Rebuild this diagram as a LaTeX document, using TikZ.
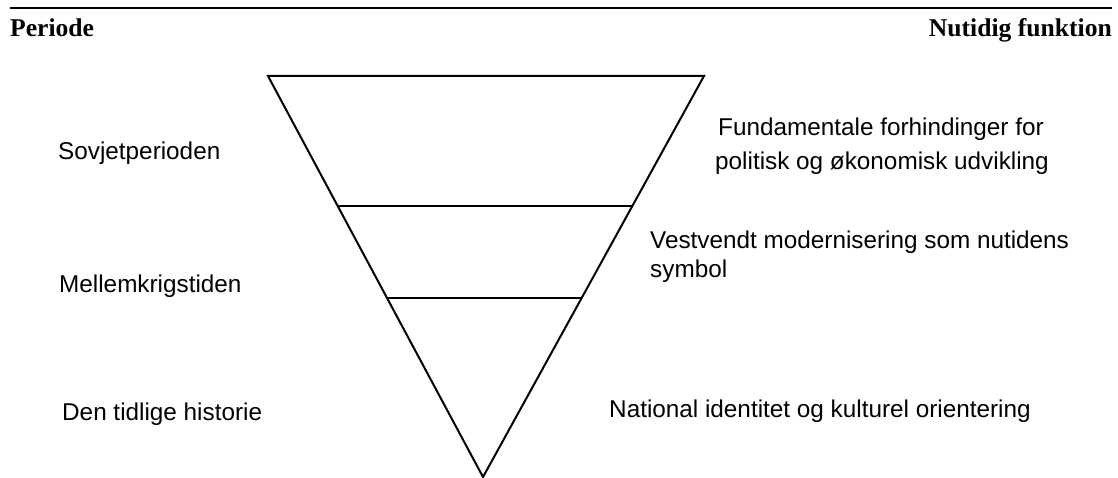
\documentclass[tikz,border=0pt]{standalone}
\usepackage{fontspec}
\usetikzlibrary{calc}
\newfontfamily\lblfont{Liberation Sans}
\newfontfamily\hdfont{Liberation Serif}
\tikzset{
  lbl/.style={inner sep=0pt, anchor=base west, font=\lblfont\fontsize{24.3}{29}\selectfont},
  hd/.style={inner sep=0pt, font=\hdfont\bfseries\fontsize{25.6}{30}\selectfont},
  edge/.style={line width=2pt, line join=miter},
  band/.style={line width=2pt}
}
\begin{document}
\begin{tikzpicture}[x=1pt,y=-1pt]
\useasboundingbox (0,0) rectangle (1118,478);
% top rule
\coordinate (rl) at (10,8);
\coordinate (rr) at (1112,8);
\draw[line width=2.2pt] (rl) -- (rr);
% headers
\node[hd, anchor=base west] (periode) at (10,36.5) {Periode};
\node[hd, anchor=base east] (nutid) at (1112,36.5) {Nutidig funktion};
% inverted triangle
\coordinate (tl) at (268,76);
\coordinate (tr) at (704,76);
\coordinate (ap) at (483,477);
\draw[edge] (tl) -- (tr) -- (ap) -- cycle;
\coordinate (l1) at ($(tl)!0.3242!(ap)$);
\coordinate (r1) at ($(tr)!0.3242!(ap)$);
\coordinate (l2) at ($(tl)!0.5536!(ap)$);
\coordinate (r2) at ($(tr)!0.5536!(ap)$);
\draw[band] (l1) -- (r1);
\draw[band] (l2) -- (r2);
% periods
\node[lbl] (sov) at (58,160) {Sovjetperioden};
\node[lbl] (mel) at (59,292) {Mellemkrigstiden};
\node[lbl] (den) at (62,420) {Den tidlige historie};
% functions
\node[lbl] (f1a) at (718,136) {Fundamentale forhindinger for};
\node[lbl] (f1b) at (715,170) {politisk og økonomisk udvikling};
\node[lbl] (f2a) at (650,249) {Vestvendt modernisering som nutidens};
\node[lbl] (f2b) at (650,277) {symbol};
\node[lbl] (f3) at (609,417) {National identitet og kulturel orientering};
\end{tikzpicture}
\end{document}
